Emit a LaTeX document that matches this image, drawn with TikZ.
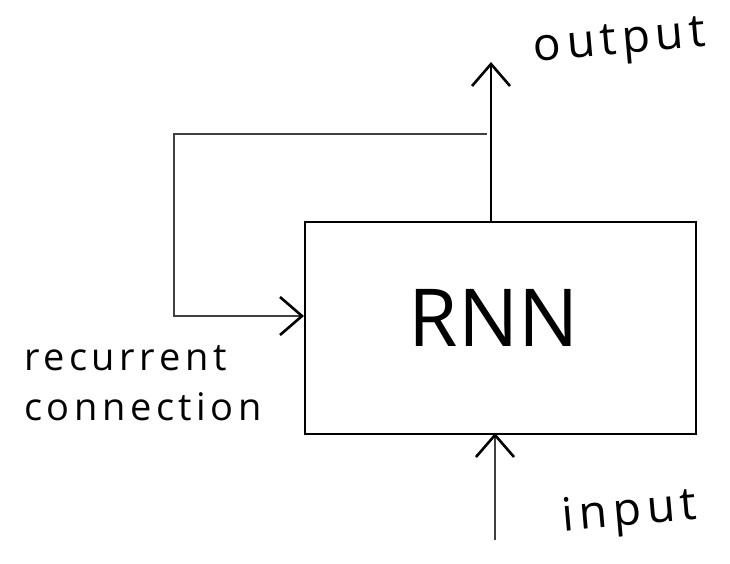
\documentclass[tikz,border=0pt]{standalone}
\usepackage{fontspec}
\setmainfont{Open Sans}
\newfontfamily\handfont[LetterSpace=12]{Open Sans}
\usetikzlibrary{arrows.meta}
\begin{document}
\begin{tikzpicture}[x=1pt,y=-1pt,
  thick line/.style={line width=1.8pt,black},
  thin line/.style={line width=1.2pt,black!75},
  chevron/.style={-{Straight Barb[length=22pt,width=38pt,line width=2.6pt,black]}},
  hand/.style={inner sep=0pt}]
\useasboundingbox (0,0) rectangle (730,563);
\node[draw, thick line, minimum width=391pt, minimum height=212pt, anchor=north west, inner sep=0pt] (rnn) at (304,221) {};
\node[font=\fontsize{80}{80}\selectfont, inner sep=0pt] (lbl) at (494,318) {RNN};
\coordinate (outtop) at (491,62);
\coordinate (outfoot) at (491,221);
\coordinate (fbstart) at (487,134);
\coordinate (fbcorner1) at (174,134);
\coordinate (fbcorner2) at (174,316);
\coordinate (fbend) at (304,316);
\coordinate (inbot) at (495,540);
\coordinate (intop) at (495,433);
\draw[thick line, chevron] (outfoot) -- (outtop);
\draw[thin line, chevron] (fbstart) -- (fbcorner1) -- (fbcorner2) -- (fbend);
\draw[thin line, chevron] (inbot) -- (intop);
\node[hand, font=\handfont\fontsize{46}{50}\selectfont, rotate=5, anchor=center] (out) at (620,44) {output};
\node[hand, font=\handfont\fontsize{46}{50}\selectfont, rotate=5, anchor=center] (in) at (630,514) {input};
\node[hand, font=\handfont\fontsize{38}{50}\selectfont, align=left, anchor=west] (rec) at (24,383) {recurrent\\connection};
\end{tikzpicture}
\end{document}
